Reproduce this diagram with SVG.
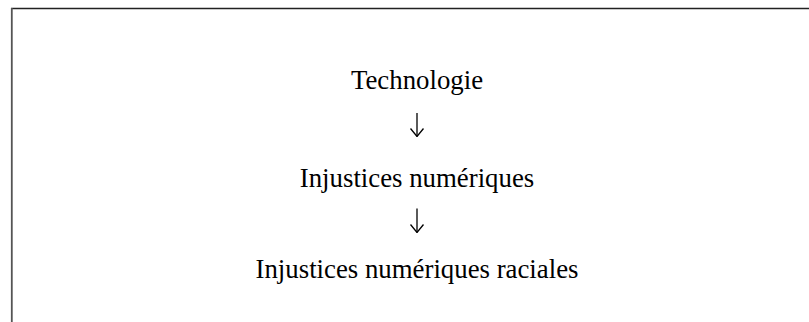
<svg xmlns="http://www.w3.org/2000/svg" width="809" height="322" viewBox="0 0 809 322">
<style>
.t{font-family:"Liberation Serif","Times New Roman",serif;font-size:26.8px;fill:#000;text-anchor:middle}
.c{stroke:#000;stroke-width:1.3;fill:none}
</style>
<defs>
<marker id="ah" viewBox="0 0 9 14" refX="8.5" refY="7" markerWidth="9" markerHeight="14" markerUnits="userSpaceOnUse" orient="auto">
<path d="M0.5 0.5 L8.5 7 L0.5 13.5" fill="none" stroke="#000" stroke-width="1.3"/>
</marker>
</defs>
<rect width="809" height="322" fill="#fff"/>
<g id="frame">
<line x1="11" y1="8.5" x2="809" y2="8.5" stroke="#222" stroke-width="1.6"/>
<line x1="11.8" y1="8" x2="11.8" y2="322" stroke="#555" stroke-width="1.8"/>
</g>
<g id="node-technologie"><text class="t" x="417" y="89">Technologie</text></g>
<g id="node-injustices"><text class="t" x="417" y="187">Injustices numériques</text></g>
<g id="node-raciales"><text class="t" x="417" y="278">Injustices numériques raciales</text></g>
<g id="connectors">
<path class="c" d="M417 113 V136.5" marker-end="url(#ah)"/>
<path class="c" d="M417 208.5 V232.5" marker-end="url(#ah)"/>
</g>
</svg>
